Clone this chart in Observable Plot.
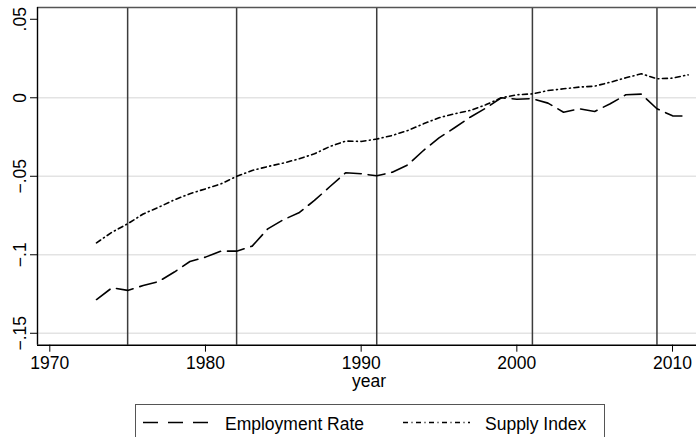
<!DOCTYPE html>
<html><head><meta charset="utf-8">
<script src="https://cdn.jsdelivr.net/npm/d3@7"></script>
<script src="https://cdn.jsdelivr.net/npm/@observablehq/plot@0.6"></script>
<style>
html,body{margin:0;padding:0;background:#fff}
body{width:696px;height:437px;overflow:hidden;position:relative;font-family:"Liberation Sans",Arial,Helvetica,sans-serif}
#legend{position:absolute;left:135px;top:404px;width:468px;height:40px;border:1px solid #555;border-bottom:none;background:#fff}
</style></head><body>
<div id="chart"></div>
<div id="legend"></div>
<script>
const years = [1973,1974,1975,1976,1977,1978,1979,1980,1981,1982,1983,1984,1985,1986,1987,1988,1989,1990,1991,1992,1993,1994,1995,1996,1997,1998,1999,2000,2001,2002,2003,2004,2005,2006,2007,2008,2009,2010,2011];
const employmentRate = [-0.1285,-0.121,-0.1227,-0.1196,-0.117,-0.111,-0.1043,-0.1015,-0.0977,-0.0977,-0.0945,-0.0835,-0.0777,-0.0733,-0.0654,-0.0565,-0.0478,-0.0484,-0.0497,-0.0474,-0.0427,-0.0336,-0.0255,-0.0191,-0.0124,-0.0066,0.0,-0.0009,-0.0006,-0.0034,-0.0092,-0.007,-0.0087,-0.0038,0.0019,0.0023,-0.007,-0.0115,-0.0117];
const supplyIndex = [-0.0924,-0.0856,-0.0803,-0.074,-0.0697,-0.065,-0.0611,-0.058,-0.0548,-0.0501,-0.0463,-0.0438,-0.0416,-0.0389,-0.0357,-0.031,-0.0276,-0.0278,-0.0263,-0.024,-0.0208,-0.0166,-0.0127,-0.0102,-0.0081,-0.0045,0.0,0.0019,0.0025,0.0046,0.0057,0.0068,0.0074,0.0099,0.0127,0.0153,0.0121,0.0125,0.0146];
const recessionYears = [1975,1982,1991,2001,2009];
const yTicks = [0.05,0,-0.05,-0.1,-0.15];
const yTickLabels = [".05","0","\u2212.05","\u2212.1","\u2212.15"];
const gridTicks = [0,-0.05,-0.1,-0.15];
const xTicks = [1970,1980,1990,2000,2010];
const seriesNames = ["Employment Rate","Supply Index"];
const xLabel = "year";

const emp = years.map((y,i)=>({year:y, value:employmentRate[i]}));
const sup = years.map((y,i)=>({year:y, value:supplyIndex[i]}));

const xDom = [1969.21, 2011.54];
const yDom = [-0.1576, 0.0575];
const empDash = "17,7";
const empLegendDash = "15,10";
const supDash = "5,3.5,1,3.5";

const chart = Plot.plot({
  width: 696, height: 404,
  marginLeft: 37, marginRight: 0, marginTop: 7, marginBottom: 59.3,
  style: {fontFamily: '"Liberation Sans",Arial,Helvetica,sans-serif', fontSize: "17.5px", background: "#fff", color: "#000"},
  x: {domain: xDom},
  y: {domain: yDom},
  marks: [
    Plot.ruleY(gridTicks, {stroke: "#e3e3e3", strokeWidth: 1.5}),
    Plot.ruleX(recessionYears, {stroke: "#3c3c3c", strokeWidth: 1.5}),
    Plot.ruleY([yDom[1]], {stroke: "#555", strokeWidth: 1.5}),
    Plot.line(emp, {x: "year", y: "value", stroke: "#000", strokeWidth: 1.6, strokeDasharray: empDash}),
    Plot.line(sup, {x: "year", y: "value", stroke: "#000", strokeWidth: 1.6, strokeDasharray: supDash}),
    Plot.axisX(xTicks, {tickSize: 7, tickPadding: 4, tickFormat: d => String(d), fontSize: 17.5, label: null, stroke: "#000"}),
    Plot.axisY(yTicks, {tickSize: 7, tickPadding: 5, tickRotate: -90, tickFormat: d => yTickLabels[yTicks.indexOf(d)], fontSize: 17.5, label: null}),
    Plot.ruleX([xDom[0]], {stroke: "#000", strokeWidth: 1.4}),
    Plot.ruleY([yDom[0]], {stroke: "#000", strokeWidth: 1.4}),
    Plot.text([xLabel], {x: 1990.5, frameAnchor: "bottom", dy: 42, lineAnchor: "bottom", fontSize: 17.5, text: d => d})
  ]
});
document.getElementById("chart").appendChild(chart);

// legend
const lg = d3.select("#legend").append("svg").attr("width", 468).attr("height", 40).style("display","block");
const items = [
  {name: seriesNames[0], dash: empLegendDash, x0: 7, x1: 72, tx: 89},
  {name: seriesNames[1], dash: supDash, x0: 267, x1: 334, tx: 349}
];
items.forEach(it => {
  lg.append("line").attr("x1", it.x0).attr("x2", it.x1).attr("y1", 17.5).attr("y2", 17.5)
    .attr("stroke", "#000").attr("stroke-width", 1.6).attr("stroke-dasharray", it.dash);
  lg.append("text").attr("x", it.tx).attr("y", 24.5).attr("font-size", 17.5)
    .attr("font-family", '"Liberation Sans",Arial,sans-serif').attr("fill", "#000").text(it.name);
});
</script>
</body></html>
